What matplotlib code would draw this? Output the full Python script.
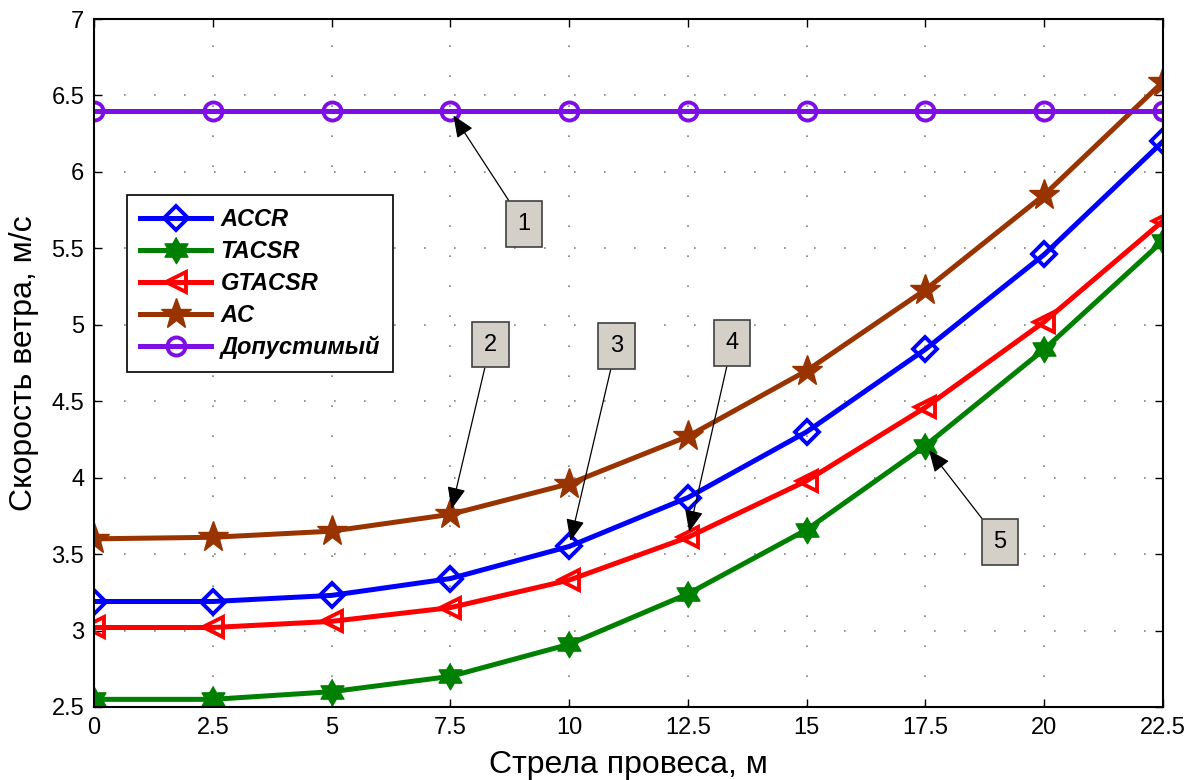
import numpy as np
import matplotlib
matplotlib.use("Agg")
import matplotlib.pyplot as plt

plt.rcParams['font.family'] = ['Liberation Sans', 'DejaVu Sans']

# данные
sag = [0, 2.5, 5, 7.5, 10, 12.5, 15, 17.5, 20, 22.5]
accr = [3.19, 3.19, 3.23, 3.34, 3.55, 3.87, 4.30, 4.84, 5.46, 6.20]
tacsr = [2.55, 2.55, 2.60, 2.70, 2.91, 3.24, 3.66, 4.21, 4.84, 5.55]
gtacsr = [3.02, 3.02, 3.06, 3.15, 3.33, 3.61, 3.98, 4.46, 5.02, 5.68]
ac = [3.60, 3.61, 3.65, 3.76, 3.96, 4.27, 4.70, 5.23, 5.85, 6.59]
allowed = [6.4] * len(sag)

labels = ["ACCR", "TACSR", "GTACSR", "AC", "Допустимый"]
x_ticks = [0, 2.5, 5, 7.5, 10, 12.5, 15, 17.5, 20, 22.5]
x_ticklabels = ["0", "2.5", "5", "7.5", "10", "12.5", "15", "17.5", "20", "22.5"]
y_ticks = [2.5, 3, 3.5, 4, 4.5, 5, 5.5, 6, 6.5, 7]
y_ticklabels = ["2.5", "3", "3.5", "4", "4.5", "5", "5.5", "6", "6.5", "7"]

# подписи-выноски: номер, координаты рамки, точка на кривой
notes = ["1", "2", "3", "4", "5"]
note_box = [(9.05, 5.66), (8.34, 4.87), (10.99, 4.86), (13.43, 4.88), (19.07, 3.58)]
note_target = [(7.5, 6.4), (7.5, 3.76), (10, 3.55), (12.5, 3.61), (17.5, 4.21)]

# шестиконечная звезда (hexagram, как в MATLAB)
ang = np.arange(12) * np.pi / 6 + np.pi / 2
rad = np.where(np.arange(12) % 2 == 0, 1.0, 0.58)
hexagram = list(zip(rad * np.cos(ang), rad * np.sin(ang)))

fig = plt.figure(figsize=(12.02, 7.80), dpi=100)
ax = fig.add_axes([0.0782, 0.0936, 0.8894, 0.882])

lw = 3.6
ax.plot(sag, accr, color="#0000FF", lw=lw, marker="D", ms=12, mfc="none", mew=2.8, label=labels[0])
ax.plot(sag, tacsr, color="#008000", lw=lw, marker=hexagram, ms=19, mfc="#008000", mew=1, label=labels[1])
ax.plot(sag, gtacsr, color="#FF0000", lw=lw, marker="<", ms=15, mfc="none", mew=2.8, label=labels[2])
ax.plot(sag, ac, color="#993300", lw=lw, marker="*", ms=23, mfc="#993300", mew=1, label=labels[3])
ax.plot(sag, allowed, color="#7D0FE6", lw=lw, marker="o", ms=13, mfc="none", mew=2.8, label=labels[4])

ax.set_xlim(0, 22.5)
ax.set_ylim(2.5, 7)
ax.set_xticks(x_ticks)
ax.set_xticklabels(x_ticklabels)
ax.set_yticks(y_ticks)
ax.set_yticklabels(y_ticklabels)
ax.tick_params(direction="in", top=True, right=True, length=6, width=1,
               labelsize=17, pad=7)
ax.grid(True, color="#808080", linestyle=(0, (1, 17)), linewidth=1.2)
for s in ax.spines.values():
    s.set_linewidth(1.5)

ax.set_xlabel("Стрела провеса, м", fontsize=23, labelpad=8)
ax.set_ylabel("Скорость ветра, м/с", fontsize=23, labelpad=9)

leg = ax.legend(loc="upper left", bbox_to_anchor=(0.031, 0.744), borderaxespad=0,
                fancybox=False, framealpha=1, edgecolor="black", handlelength=3.0,
                labelspacing=0.38, borderpad=0.55, handletextpad=0.4,
                prop={"family": "Liberation Sans", "weight": "bold",
                      "style": "italic", "size": 17})
leg.get_frame().set_linewidth(1.2)

for n, (bx, by), (tx, ty) in zip(notes, note_box, note_target):
    ax.annotate(n, xy=(tx, ty), xytext=(bx, by), fontsize=17,
                ha="center", va="center",
                bbox=dict(boxstyle="square,pad=0.5", fc="#D4D0C8", ec="#404040", lw=1.2),
                arrowprops=dict(arrowstyle="-|>,head_length=0.9,head_width=0.38",
                                mutation_scale=15, color="black", lw=0.9,
                                shrinkA=0, shrinkB=4))

fig.savefig("out.png", dpi=100)
